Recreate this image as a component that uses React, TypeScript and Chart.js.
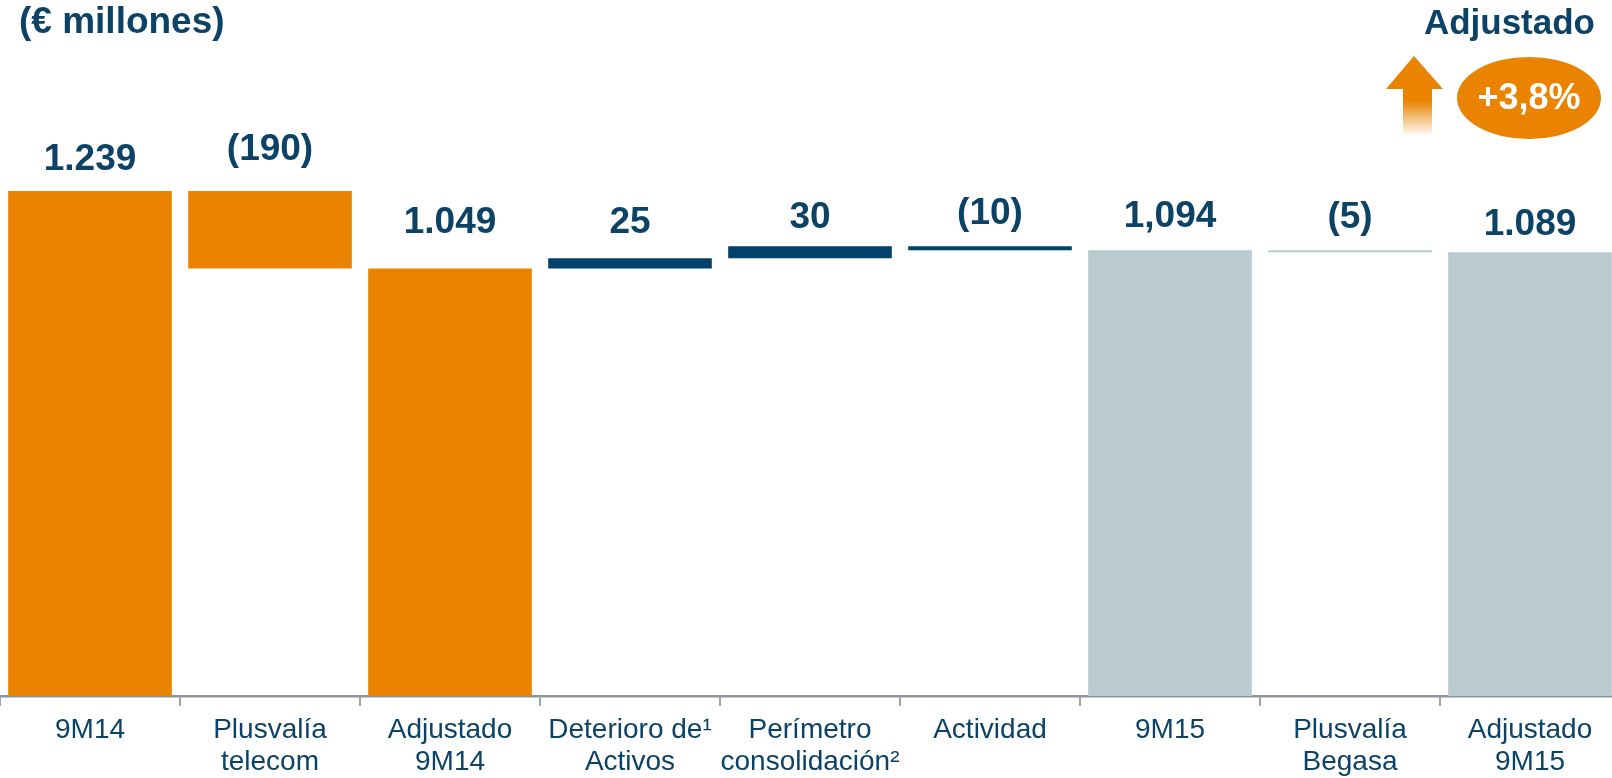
import React, { useEffect, useRef } from "react";
import { Chart, registerables } from "chart.js";

Chart.register(...registerables);

const categories: string[][] = [
  ["9M14"],
  ["Plusvalía", "telecom"],
  ["Adjustado", "9M14"],
  ["Deterioro de¹", "Activos"],
  ["Perímetro", "consolidación²"],
  ["Actividad"],
  ["9M15"],
  ["Plusvalía", "Begasa"],
  ["Adjustado", "9M15"],
];
const barStarts = [0, 1049, 0, 1049, 1074, 1094, 0, 1089, 0];
const barEnds = [1239, 1239, 1049, 1074, 1104, 1104, 1094, 1094, 1089];
const valueLabels = ["1.239", "(190)", "1.049", "25", "30", "(10)", "1,094", "(5)", "1.089"];
const unitLabel = "(€ millones)";
const badgeTitle = "Adjustado";
const badgeText = "+3,8%";

const ORANGE = "#E98300";
const NAVY = "#02426A";
const GREY = "#B9CAD1";
const TEXT = "#0B4266";
const AXIS = "#8C959D";
const barColors = [ORANGE, ORANGE, ORANGE, NAVY, NAVY, NAVY, GREY, GREY, GREY];
const labelOffsets = [31, 41, 46, 36, 28, 32, 33, 32, 27];

const decorPlugin = {
  id: "decor",
  afterDatasetsDraw(chart: any) {
    const ctx = chart.ctx as CanvasRenderingContext2D;
    const meta = chart.getDatasetMeta(0);
    const y = chart.scales.y;
    ctx.save();
    ctx.fillStyle = TEXT;
    ctx.textAlign = "center";
    ctx.textBaseline = "middle";
    ctx.font = "bold 37px 'Liberation Sans', Arial, sans-serif";
    meta.data.forEach((bar: any, i: number) => {
      const top = y.getPixelForValue(Math.max(barStarts[i], barEnds[i]));
      ctx.fillText(valueLabels[i], bar.x, top - labelOffsets[i]);
    });

    // unit label
    ctx.textAlign = "left";
    ctx.font = "bold 37px 'Liberation Sans', Arial, sans-serif";
    ctx.fillText(unitLabel, 19, 23);

    // badge title
    ctx.textAlign = "right";
    ctx.font = "bold 35px 'Liberation Sans', Arial, sans-serif";
    ctx.fillText(badgeTitle, 1595, 24);

    // arrow
    const grad = ctx.createLinearGradient(0, 89, 0, 136);
    grad.addColorStop(0, ORANGE);
    grad.addColorStop(0.25, ORANGE);
    grad.addColorStop(1, "rgba(255,255,255,1)");
    ctx.fillStyle = grad;
    ctx.fillRect(1403, 88, 29, 48);
    ctx.fillStyle = ORANGE;
    ctx.beginPath();
    ctx.moveTo(1414, 56);
    ctx.lineTo(1443, 89);
    ctx.lineTo(1386, 89);
    ctx.closePath();
    ctx.fill();

    // ellipse
    ctx.beginPath();
    ctx.ellipse(1529, 98, 72, 41, 0, 0, Math.PI * 2);
    ctx.fill();
    ctx.fillStyle = "#FFFFFF";
    ctx.textAlign = "center";
    ctx.font = "bold 36px 'Liberation Sans', Arial, sans-serif";
    ctx.fillText(badgeText, 1529, 99);
    ctx.restore();
  },
};

export default function App() {
  const ref = useRef<HTMLCanvasElement | null>(null);
  useEffect(() => {
    if (!ref.current) return;
    const chart = new Chart(ref.current, {
      type: "bar",
      data: {
        labels: categories,
        datasets: [
          {
            data: barStarts.map((s, i) => [s, barEnds[i]]) as any,
            backgroundColor: barColors,
            borderWidth: 0,
            barPercentage: 0.909,
            categoryPercentage: 1,
          },
        ],
      },
      options: {
        responsive: false,
        animation: false,
        layout: { padding: 0 },
        plugins: { legend: { display: false }, tooltip: { enabled: false } },
        scales: {
          x: {
            afterFit: (s: any) => {
              s.height = 82;
            },
            grid: {
              display: true,
              drawOnChartArea: false,
              drawTicks: true,
              tickLength: 10,
              color: "#9AA3AA",
              lineWidth: 2,
              offset: true,
            },
            border: { display: true, color: AXIS, width: 2.5 },
            ticks: {
              color: TEXT,
              padding: 8,
              maxRotation: 0,
              autoSkip: false,
              font: { family: "'Liberation Sans', Arial, sans-serif", size: 28, lineHeight: 32 / 28 },
            },
          },
          y: {
            display: false,
            min: 0,
            max: 1708,
          },
        },
      },
      plugins: [decorPlugin],
    });
    return () => chart.destroy();
  }, []);
  return (
    <div style={{ position: "fixed", left: 0, top: 0, width: 1612, height: 778, overflow: "hidden", background: "#fff" }}>
      <canvas ref={ref} width={1620} height={778} style={{ display: "block" }} />
    </div>
  );
}
